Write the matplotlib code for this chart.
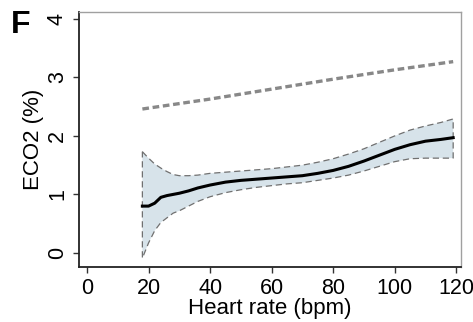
import matplotlib
matplotlib.use("Agg")
import matplotlib.pyplot as plt
import numpy as np

plt.rcParams['font.family'] = ['Liberation Sans', 'DejaVu Sans']

hr = [18, 20, 22, 24, 26, 28, 30, 33, 36, 40, 45, 50, 55, 60, 65, 70, 75, 80, 85, 90, 95, 100, 105, 110, 115, 119]
mean = [0.80, 0.80, 0.85, 0.95, 0.98, 1.00, 1.02, 1.06, 1.11, 1.16, 1.21, 1.24, 1.26, 1.28, 1.30, 1.32, 1.36, 1.41, 1.48, 1.57, 1.67, 1.77, 1.85, 1.91, 1.94, 1.97]
upper = [1.73, 1.62, 1.52, 1.45, 1.39, 1.34, 1.32, 1.32, 1.33, 1.36, 1.38, 1.40, 1.42, 1.44, 1.47, 1.50, 1.55, 1.61, 1.69, 1.78, 1.89, 2.00, 2.10, 2.17, 2.23, 2.29]
lower = [-0.09, 0.17, 0.38, 0.52, 0.60, 0.68, 0.72, 0.80, 0.88, 0.96, 1.03, 1.08, 1.12, 1.15, 1.18, 1.20, 1.24, 1.28, 1.33, 1.40, 1.48, 1.56, 1.61, 1.62, 1.62, 1.62]
ref_hr = [18, 40, 60, 80, 100, 119]
ref_val = [2.46, 2.63, 2.80, 2.97, 3.13, 3.27]

xticks = [0, 20, 40, 60, 80, 100, 120]
yticks = [0, 1, 2, 3, 4]

fig = plt.figure(figsize=(4.73, 3.22), dpi=100)
ax = fig.add_axes([0.167, 0.171, 0.808, 0.792])

poly_x = list(hr) + list(hr[::-1])
poly_y = list(upper) + list(lower[::-1])
ax.fill(poly_x, poly_y, facecolor='#d7e3ea', edgecolor='#707070', linestyle=(0, (5, 3)), linewidth=0.9, zorder=2)
ax.plot(hr, mean, color='black', linewidth=2.2, zorder=3)
ax.plot(ref_hr, ref_val, color='#888888', linewidth=2.4, linestyle=(0, (2.0, 1.1)), zorder=3)

ax.set_xlim(-2.6, 121.6)
ax.set_ylim(-0.24, 4.12)
ax.set_xticks(xticks)
ax.set_yticks(yticks)
ax.set_xticklabels([str(v) for v in xticks], fontsize=15.5)
ax.set_yticklabels([str(v) for v in yticks], fontsize=15.5, rotation=90, va='center')
ax.tick_params(axis='both', length=4, width=1, color='#333333', pad=4)

ax.set_xlabel('Heart rate (bpm)', fontsize=16, labelpad=-1)
ax.set_ylabel('ECO2 (%)', fontsize=16, labelpad=2)

for s in ['left', 'bottom']:
    ax.spines[s].set_color('#222222')
    ax.spines[s].set_linewidth(1.3)
for s in ['top', 'right']:
    ax.spines[s].set_color('#a0a0a0')
    ax.spines[s].set_linewidth(1.0)

fig.text(0.024, 0.968, 'F', fontsize=23, fontweight='bold', va='top', ha='left')

fig.savefig('out.png', dpi=100)
